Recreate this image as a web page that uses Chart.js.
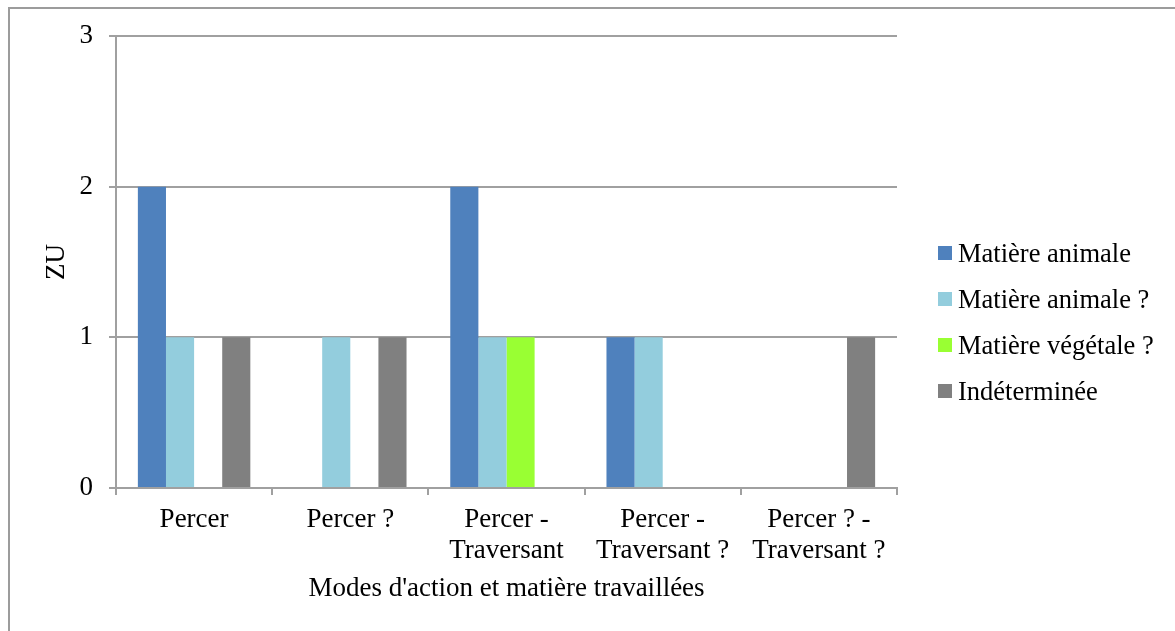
<!DOCTYPE html>
<html lang="fr">
<head>
<meta charset="utf-8">
<title>ZU par mode d'action</title>
<script src="https://cdn.jsdelivr.net/npm/chart.js@4.4.1/dist/chart.umd.min.js"></script>
<style>
  html, body { margin: 0; padding: 0; background: #fff; overflow: hidden; }
  #frame { position: absolute; left: 8px; top: 7px; width: 1300px; height: 800px; border: 2px solid #9c9c9c; box-sizing: border-box; }
  #wrap { position: absolute; left: 0; top: 0; width: 1175px; height: 631px; }
  #legend { position: absolute; left: 938px; top: 230px; margin: 0; padding: 0; list-style: none;
            font-family: 'Liberation Serif', 'Times New Roman', serif; font-size: 26.5px; color: #000; }
  #legend li { height: 46px; display: flex; align-items: center; white-space: nowrap; }
  #legend .box { width: 14px; height: 14px; margin-right: 6px; display: inline-block; }
</style>
</head>
<body>
<div id="frame"></div>
<div id="wrap"><canvas id="chartZU" width="1175" height="631"></canvas></div>
<ul id="legend"></ul>
<script>
const categories = [
  ['Percer'],
  ['Percer ?'],
  ['Percer -', 'Traversant'],
  ['Percer -', 'Traversant ?'],
  ['Percer ? -', 'Traversant ?'],
];
const animale = [2, 0, 2, 1, 0];
const animaleDoute = [1, 1, 1, 1, 0];
const vegetaleDoute = [0, 0, 1, 0, 0];
const indeterminee = [1, 1, 0, 0, 1];
const yTicks = [0, 1, 2, 3];

const serif = "'Liberation Serif','Times New Roman',serif";
Chart.defaults.font.family = serif;
Chart.defaults.font.size = 27;
Chart.defaults.color = '#000';

const gridColor = '#a0a0a0';

const chart = new Chart(document.getElementById('chartZU'), {
  type: 'bar',
  data: {
    labels: categories,
    datasets: [
      { label: 'Matière animale', data: animale, backgroundColor: '#4f81bd' },
      { label: 'Matière animale ?', data: animaleDoute, backgroundColor: '#93cddd' },
      { label: 'Matière végétale ?', data: vegetaleDoute, backgroundColor: '#99ff33' },
      { label: 'Indéterminée', data: indeterminee, backgroundColor: '#808080' },
    ],
  },
  options: {
    responsive: false,
    animation: false,
    devicePixelRatio: 1,
    layout: { padding: { top: 36, right: 278, bottom: 0, left: 0 } },
    datasets: { bar: { categoryPercentage: 0.72, barPercentage: 1, borderWidth: 0 } },
    plugins: { legend: { display: false }, tooltip: { enabled: false } },
    scales: {
      x: {
        grid: { drawOnChartArea: false, color: gridColor, lineWidth: 2, tickLength: 7 },
        border: { color: gridColor, width: 2 },
        ticks: { padding: 9, font: { size: 27, lineHeight: 1.15 } },
        title: { display: true, text: "Modes d'action et matière travaillées", font: { size: 27 }, padding: { top: 0, bottom: 26 } },
        afterFit: (scale) => { scale.height = 143; },
      },
      y: {
        min: 0,
        max: 3,
        afterBuildTicks: (scale) => { scale.ticks = yTicks.map(v => ({ value: v })); },
        grid: { color: gridColor, lineWidth: 2, tickLength: 7 },
        border: { color: gridColor, width: 2 },
        ticks: { padding: 16, font: { size: 27 } },
        title: { display: true, text: 'ZU', font: { size: 27 }, padding: { top: 41, bottom: 0 } },
        afterFit: (scale) => { scale.width = 116; },
      },
    },
  },
});

// legende HTML a partir des items du graphique
const legendEl = document.getElementById('legend');
legendEl.innerHTML = chart.options.plugins.legend.labels.generateLabels(chart).map(item =>
  `<li><span class="box" style="background:${item.fillStyle}"></span>${item.text}</li>`
).join('');
</script>
</body>
</html>
